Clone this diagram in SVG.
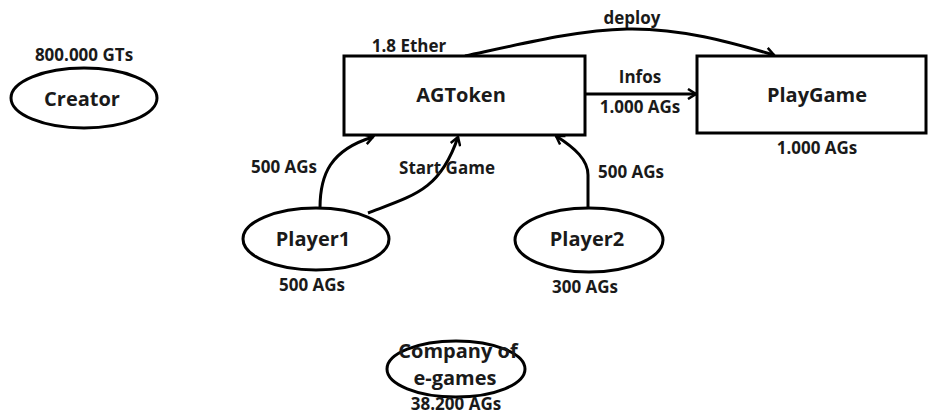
<svg xmlns="http://www.w3.org/2000/svg" width="929" height="416" viewBox="0 0 929 416">
<defs>
<marker id="arr" viewBox="0 0 12 12" refX="10" refY="6" markerWidth="12" markerHeight="12" markerUnits="userSpaceOnUse" orient="auto">
<polyline points="2,1 10,6 2,11" fill="none" stroke="#000" stroke-width="2.5"/>
</marker>
<style>
.shape{fill:#fff;stroke:#000;stroke-width:3}
.conn{fill:none;stroke:#000;stroke-width:3;marker-end:url(#arr)}
text{font-family:"Open Sans","Liberation Sans",sans-serif;font-weight:700;fill:#1a1a1a}
.big{font-size:20px}
.lbl{font-size:17px}
</style>
</defs>
<rect width="929" height="416" fill="#fff"/>
<g id="connectors">
<path class="conn" d="M465,56 C530,42 580,30 627,29 C680,28 730,42 774,55"/>
<path class="conn" d="M585,94 L696,94"/>
<path class="conn" d="M320,208 C320,175 330,150 373,137"/>
<path class="conn" d="M368,213 C415,195 440,190 458,137"/>
<path class="conn" d="M588,208 L588,175 C588,160 575,148 556,136"/>
</g>
<g id="creator">
<ellipse class="shape" cx="84" cy="98" rx="73" ry="30"/>
<text class="big" x="82" y="106" text-anchor="middle">Creator</text>
<text class="lbl" x="84" y="61" text-anchor="middle">800.000 GTs</text>
</g>
<g id="agtoken">
<rect class="shape" x="344" y="56" width="241" height="79"/>
<text class="big" x="461" y="102" text-anchor="middle">AGToken</text>
<text class="lbl" x="409" y="52" text-anchor="middle">1.8 Ether</text>
</g>
<g id="playgame">
<rect class="shape" x="697" y="56" width="229" height="77"/>
<text class="big" x="817" y="102" font-size="21" text-anchor="middle">PlayGame</text>
<text class="lbl" x="817" y="154" text-anchor="middle">1.000 AGs</text>
</g>
<g id="player1">
<ellipse class="shape" cx="316" cy="239" rx="73" ry="31"/>
<text class="big" x="313" y="246" text-anchor="middle">Player1</text>
<text class="lbl" x="312" y="291" text-anchor="middle">500 AGs</text>
</g>
<g id="player2">
<ellipse class="shape" cx="589" cy="240" rx="74" ry="32"/>
<text class="big" x="587" y="246" text-anchor="middle">Player2</text>
<text class="lbl" x="585" y="293" text-anchor="middle">300 AGs</text>
</g>
<g id="company">
<ellipse class="shape" cx="456" cy="369" rx="69" ry="28"/>
<text class="big" x="458" y="358" text-anchor="middle">Company of</text>
<text class="big" x="455" y="385" text-anchor="middle">e-games</text>
<text class="lbl" x="456" y="410" text-anchor="middle">38.200 AGs</text>
</g>
<g id="labels">
<text class="lbl" x="632" y="24" text-anchor="middle">deploy</text>
<text class="lbl" x="640" y="83" text-anchor="middle">Infos</text>
<text class="lbl" x="640" y="113" text-anchor="middle">1.000 AGs</text>
<text class="lbl" x="284" y="173" text-anchor="middle">500 AGs</text>
<text class="lbl" x="447" y="174" text-anchor="middle">Start  Game</text>
<text class="lbl" x="631" y="178" text-anchor="middle">500 AGs</text>
</g>
</svg>
